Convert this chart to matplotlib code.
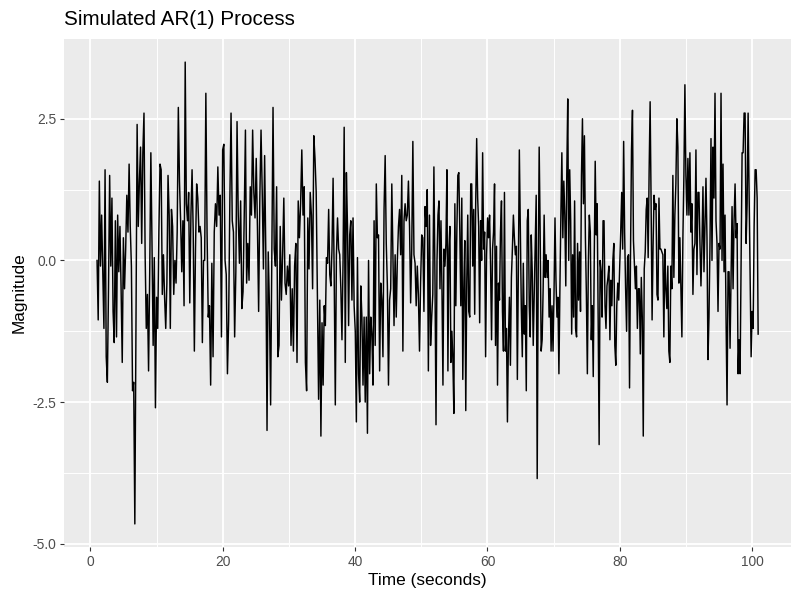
#------------------------------------------------------------------------------
#   Simulated AR(1) process, ggplot-like look
#------------------------------------------------------------------------------
import matplotlib
matplotlib.use('Agg')
import matplotlib.pyplot as plt
from matplotlib.ticker import FuncFormatter
import numpy as np

plt.rcParams['font.family'] = ['Liberation Sans', 'DejaVu Sans']
plt.rcParams['axes.unicode_minus'] = False

# values, stretch by stretch
seg_times = [1.0, 17.26, 34.66, 52.07, 69.46, 86.8, 100.9]

mag_a = [0.0, -1.05, 1.4, -0.1, 0.8, -0.2, -1.2, 1.6, -1.7, -2.15, -0.5, 1.5, -0.1, 1.1,
         -0.9, -1.45, 0.7, -1.35, 0.8, -0.2, 0.6, -0.5, -1.8, 0.4, -0.5, 0.2, 1.15, 0.5,
         1.7, 0.6, -0.1, -2.3, -2.15, -4.65, -1.0, 2.4, 0.6, 1.4, 2.0, 0.3, 1.9, 2.6, 0.1,
         -1.2, -0.6, -1.95, -0.2, 1.9, 0.3, -1.5, 0.05, -2.6, -0.65, -1.2, 0.5, 1.7, 1.6,
         -0.6, 0.1, -0.65, -1.2, -0.4, 1.5, 0.8, -1.2, 0.9, 0.6, -0.6, 0.0, -0.4, 0.5, 2.7,
         1.4, 0.7, -0.2, 0.7, -0.8, 3.5, 1.0, 0.7, 1.2, -0.75, 0.8, 1.6, 0.5, -1.6, 0.2,
         1.35, 1.1, 0.5, 0.6, 0.4, -1.45, 0.0]

mag_b = [0.0, 2.95, 0.5, -1.0, -0.8, -2.2, -0.05, -1.7, 0.5, 1.0, 0.6, 1.65, 0.8, 1.15,
         -1.35, 1.95, 2.05, 0.0, -0.25, -2.0, -1.05, 1.05, 2.6, 0.7, 0.5, -1.35, -0.2, 2.45,
         0.8, -0.05, 1.05, -0.85, -0.55, 0.8, 2.3, -0.4, 0.3, -0.35, 1.3, 0.8, 2.3, 1.2,
         0.75, 1.8, 0.6, -0.9, 1.1, 2.3, 1.2, -0.15, 1.85, 0.1, -3.0, 0.15, -0.8, -2.55,
         0.1, 2.7, 0.2, -0.1, 1.3, -1.7, -1.5, 0.6, -0.7, 0.1, 1.1, -0.4, -0.6, -0.1, -0.45,
         0.1, -1.5, -0.5, -1.6, -0.1, 0.3, -1.8, 1.05, 0.4, 1.0, 1.95, 0.8, 1.3, -1.8, -2.3,
         0.75, -0.15, 1.2, 0.8, -0.5, 2.2, 1.8, 1.2, -0.6, -2.45]

mag_c = [-0.7, -3.1, -1.1, -2.2, -0.8, -1.15, 0.05, -0.05, 0.9, -0.25, -0.45, 0.2, 1.45,
         -0.3, -2.55, 0.1, 0.75, 0.2, 0.1, -0.5, -1.4, 0.0, 2.35, -1.8, 1.55, 0.6, -1.15,
         0.45, 0.7, -0.7, 0.75, -0.8, -1.25, -2.85, 0.05, -2.0, -2.5, -0.45, -1.0, -2.2,
         -1.0, -2.5, -1.0, -3.05, 0.0, -2.0, -1.0, -1.3, -2.2, 0.7, -1.5, 1.35, 0.4, 0.45,
         -1.95, -0.4, -0.7, -1.7, 0.9, 1.85, 0.3, -0.45, -2.2, -0.7, -0.5, 1.35, 0.1, -1.15,
         0.1, -1.0, 0.0, 0.6, 0.9, 0.1, 1.5, -1.6, 0.7, 1.0, 0.7, 0.8, 1.4, 0.6, -0.75, 0.2,
         2.1, 0.1, -0.05, -0.8, -0.1, -0.6, -1.6, -0.4, 0.45, 0.4, -0.9, 0.95, 0.6, 1.25,
         -1.95, 0.8, -1.5, -1.0, -0.6, 1.65]

mag_d = [-0.4, -2.9, 0.0, 0.8, 1.05, -0.5, 0.7, -0.5, -2.2, 0.2, -0.1, 0.3, 1.6, -1.95,
         0.2, 0.6, -1.8, -1.25, -1.75, -2.7, 1.0, -0.8, 0.5, 1.5, 1.55, 0.5, -0.8, 1.1, -2.1,
         -0.5, 0.35, -2.65, -0.4, 0.8, -0.9, -1.0, 1.35, 1.35, -0.1, 0.9, -0.95, 1.0, 2.15,
         1.1, 0.6, -1.1, 0.7, 0.0, 1.9, 0.2, 0.5, -1.7, 0.1, 0.75, 0.4, 0.8, -0.1, -1.4, 0.2,
         0.5, 1.35, -1.5, 0.25, -2.2, -0.4, -0.7, 0.5, 1.05, -0.9, -1.6, 1.2, -1.6, -1.2,
         -2.85, -1.4, -0.65, -1.85, -0.3, 0.2, 0.8, 0.4, 0.1, 0.25, -2.1, -0.2, 1.95, 0.5,
         -0.85, -1.7, -0.05, -1.3, -0.8, -2.3, 0.7, 0.9, -0.8, -1.35, 0.45, -0.2, -1.5, -0.6,
         0.4, 1.15, -3.85, -0.3, 2.0, 0.5, -1.6, -1.4, -0.5, 0.8, -0.3, 0.1, -0.3, 0.0, -1.0]

mag_e = [-0.5, -1.6, -0.8, -1.6, -0.6, 0.75, -0.35, -1.0, -0.65, -2.0, -0.5, 0.8, 1.9,
         0.4, 1.4, 0.8, -0.45, 1.5, 2.85, 0.0, 1.6, 0.7, -1.3, 0.1, -1.0, 1.05, -1.2, -1.35,
         0.3, -0.7, 0.15, -0.9, 1.5, 2.5, 1.0, 2.2, 0.4, -0.6, -2.0, -0.05, 0.8, 0.5, -1.4,
         -0.8, -2.05, 0.0, 1.75, 0.45, 1.0, -1.0, -3.25, 0.0, -0.2, -1.0, 0.7, 0.7, -0.8,
         -1.2, -0.45, -0.3, -0.1, -1.4, -0.35, -0.8, 0.0, 0.3, -1.5, -1.85, -0.8, -0.4, -0.7,
         -0.1, 0.5, 1.2, 0.2, 2.1, 0.5, -0.5, -1.25, 0.05, 0.1, -2.25, 0.1, 1.95, 2.65, 0.35,
         -0.1, -0.5, -0.1, -1.2, -0.5, -0.5, -1.65, -0.3, -1.0, -3.1, -0.15, 0.15, 0.9, 1.1,
         0.05, 1.6, 2.8, 1.0, -1.05, 0.25, 1.15, 0.9, 1.0, -0.6, -0.7, 1.1, 0.2, 0.2, 0.15,
         0.1, -1.35]

mag_f = [0.2, -0.5, -0.85, -0.1, -1.6, -1.8, -0.1, -0.5, 1.5, -0.3, 0.8, 1.35, 2.5, 2.0,
         -0.4, 0.4, -0.5, -1.35, 0.4, 1.5, 3.1, 1.5, 0.8, 1.8, 0.8, 1.9, 0.5, 1.0, -0.6, 0.2,
         0.3, 1.95, -0.25, 1.2, 1.2, 0.3, -0.45, 0.3, 1.3, -0.2, 0.6, 1.45, 0.4, -1.75, -1.0,
         0.3, 2.15, 0.0, 2.0, 1.1, 2.95, 0.7, 0.3, -0.9, 0.3, 0.2, 2.95, 0.0, 1.7, -0.2, 0.8,
         -1.0, -2.55, -0.2, -0.2, -1.55, -0.3, 0.95, -0.5, 0.7, 1.35, 0.4, 0.65, -2.0, -1.4,
         -2.0, 0.05, 1.9, 1.9, 2.6, 2.6, 0.3, 1.0, 2.6, 1.2, -0.2, -1.7, -0.9, -1.2, 0.6, 1.6,
         1.6, 1.1, -1.3]

x_major = [0, 20, 40, 60, 80, 100]
x_minor = [10, 30, 50, 70, 90]
y_major = [-5.0, -2.5, 0.0, 2.5]
y_minor = [-3.75, -1.25, 1.25]


def main() -> None:
    segs = [mag_a, mag_b, mag_c, mag_d, mag_e, mag_f]
    times, mags = [], []
    for i, s in enumerate(segs):
        last = i == len(segs) - 1
        times.append(np.linspace(seg_times[i], seg_times[i + 1], len(s), endpoint=last))
        mags.append(np.array(s))
    t = np.concatenate(times)
    y = np.concatenate(mags)

    fig = plt.figure(figsize=(8, 6), dpi=100)
    ax = fig.add_axes([0.08, 0.0883, 0.909, 0.8467])
    ax.set_facecolor('#EBEBEB')
    for sp in ax.spines.values():
        sp.set_visible(False)

    ax.plot(t, y, color='black', linewidth=1.05)
    ax.margins(0.05)

    ax.set_xticks(x_major)
    ax.set_xticks(x_minor, minor=True)
    ax.set_yticks(y_major)
    ax.set_yticks(y_minor, minor=True)
    ax.yaxis.set_major_formatter(FuncFormatter(lambda v, _: f"{v:.1f}"))
    ax.set_axisbelow(True)
    ax.grid(True, which='major', color='white', linewidth=1.3)
    ax.grid(True, which='minor', color='white', linewidth=0.7)
    ax.tick_params(which='major', direction='out', length=3, width=0.8, color='#333333',
                   labelcolor='#4D4D4D', labelsize=9.9, pad=2.5)
    ax.tick_params(which='minor', length=0)

    ax.set_xlabel("Time (seconds)", fontsize=12.4, color='black', labelpad=3)
    ax.set_ylabel("Magnitude", fontsize=12.4, color='black', labelpad=4)
    ax.set_title("Simulated AR(1) Process", loc='left', fontsize=14.9, pad=10)

    fig.savefig('out.png', dpi=100)


if __name__ == "__main__":
    main()
